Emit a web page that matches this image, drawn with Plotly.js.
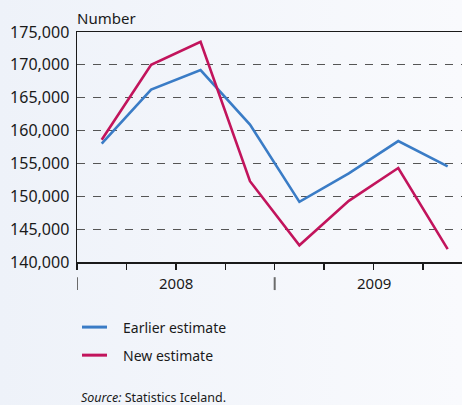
<!DOCTYPE html>
<html>
<head>
<meta charset="utf-8">
<script src="https://cdn.plot.ly/plotly-3.0.1.min.js"></script>
<style>
  html, body { margin: 0; padding: 0; }
  body { width: 462px; height: 405px; background: linear-gradient(to right, #eef2f9, #f9fafd); }
  #chart { width: 462px; height: 405px; }
</style>
</head>
<body>
<div id="chart"></div>
<script>
// Quarterly data, Q1 2008 – Q4 2009
const quarters = ['2008 Q1','2008 Q2','2008 Q3','2008 Q4','2009 Q1','2009 Q2','2009 Q3','2009 Q4'];
const years = ['2008', '2009'];
const earlierEstimate = [158000, 166250, 169200, 160900, 149150, 153500, 158400, 154550];
const newEstimate = [158600, 170000, 173500, 152300, 142550, 149300, 154300, 141950];
const seriesNames = ['Earlier estimate', 'New estimate'];
const seriesColors = ['#3a7cc6', '#c2145c'];
const yTicks = [140000, 145000, 150000, 155000, 160000, 165000, 170000, 175000];

const FONT = 'Noto Sans, DejaVu Sans, sans-serif';
const xPos = quarters.map((q, i) => i + 0.5);
const qPerYear = 4;

const traces = [earlierEstimate, newEstimate].map((vals, k) => ({
  type: 'scatter', mode: 'lines', x: xPos, y: vals, name: seriesNames[k],
  line: { color: seriesColors[k], width: 2.6 }, showlegend: false, hoverinfo: 'skip'
}));

const shapes = [];
const annotations = [];
// year separator marks and year labels below the axis
years.forEach((yr, i) => {
  shapes.push({ type: 'line', xref: 'x', yref: 'paper', x0: i * qPerYear, x1: i * qPerYear,
    y0: -0.066, y1: -0.122, line: { color: '#6b6b6b', width: 2 } });
  annotations.push({ xref: 'x', yref: 'paper', x: i * qPerYear + qPerYear / 2, y: -0.092,
    text: yr, showarrow: false, xanchor: 'center', yanchor: 'middle',
    font: { family: FONT, size: 15, color: '#1a1a1a' } });
});
// manual legend
seriesNames.forEach((nm, k) => {
  const yc = -0.283 - k * 0.122;
  shapes.push({ type: 'line', xref: 'paper', yref: 'paper', x0: 0.013, x1: 0.078, y0: yc, y1: yc,
    line: { color: seriesColors[k], width: 3 } });
  annotations.push({ xref: 'paper', yref: 'paper', x: 0.119, y: yc, text: nm, showarrow: false,
    xanchor: 'left', yanchor: 'middle', xshift: -2, font: { family: FONT, size: 14, color: '#1a1a1a' } });
});
// axis unit label
annotations.push({ xref: 'paper', yref: 'paper', x: 0, y: 1.01, text: 'Number', showarrow: false,
  xanchor: 'left', yanchor: 'bottom', xshift: -2, font: { family: FONT, size: 15, color: '#1a1a1a' } });
// source
annotations.push({ xref: 'paper', yref: 'paper', x: 0.005, y: -0.59, text: '<i>Source:</i> Statistics Iceland.',
  showarrow: false, xanchor: 'left', yanchor: 'middle', font: { family: FONT, size: 12.5, color: '#1a1a1a' } });

const layout = {
  width: 462, height: 405,
  margin: { l: 77, r: 0, t: 32, b: 143 },
  paper_bgcolor: 'rgba(0,0,0,0)', plot_bgcolor: 'rgba(0,0,0,0)',
  showlegend: false,
  xaxis: {
    range: [0, 7.79], tickvals: [0, 1, 2, 3, 4, 5, 6, 7], showticklabels: false,
    ticks: 'outside', ticklen: 6, tickwidth: 1.5, tickcolor: '#1a1a1a',
    showgrid: false, zeroline: false, showline: true, linecolor: '#1a1a1a', linewidth: 1.5, mirror: true
  },
  yaxis: {
    range: [140000, 175000], tickvals: yTicks, tickformat: ',d', ticks: '',
    ticklabelstandoff: 3,
    tickfont: { family: FONT, size: 16, color: '#1a1a1a' },
    showgrid: true, gridcolor: '#555555', gridwidth: 1, griddash: '8px,8px',
    zeroline: false, showline: true, linecolor: '#1a1a1a', linewidth: 1.5
  },
  shapes: shapes, annotations: annotations
};

Plotly.newPlot('chart', traces, layout, { displayModeBar: false, staticPlot: true });
</script>
</body>
</html>
